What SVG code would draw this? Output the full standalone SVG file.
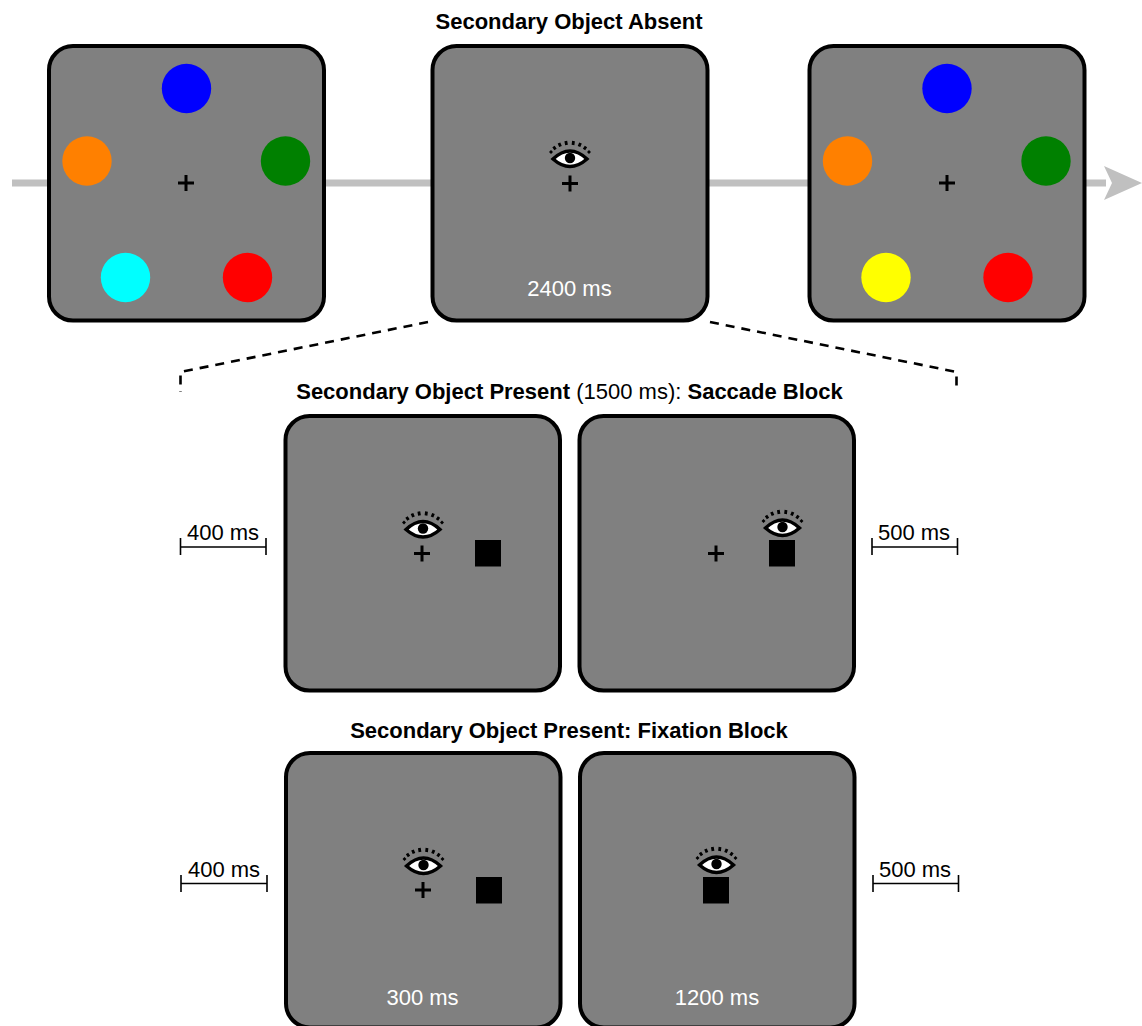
<svg xmlns="http://www.w3.org/2000/svg" width="1142" height="1026" viewBox="0 0 1142 1026">
<style>
.panel{fill:#808080;stroke:#000;stroke-width:4}
text{font-family:"Liberation Sans",Arial,sans-serif;font-size:22px;text-anchor:middle}
.t{font-weight:bold}
.w{fill:#fff}
.plus{stroke:#000;stroke-width:3;fill:none}
.dash{stroke:#000;stroke-width:2.6;fill:none;stroke-dasharray:9 7}
.scale{stroke:#000;stroke-width:1.6;fill:none}
</style>
<defs>
<g id="eye">
<path d="M-17 1Q0-15 17 1Q0 16-17 1Z" fill="#fff" stroke="#000" stroke-width="3.4"/>
<circle cx="0" cy="0" r="5.2" fill="#000"/>
<path d="M-18-5l-2-2M-14.500-8.500l-2-3M-9.500-11.500l-1.500-3.500M-3.500-13l-.7-4M3-13l.5-4M9-11.500l1.500-3.500M14-8.500l2-3M18-5l2-2" stroke="#000" stroke-width="2.800" fill="none"/>
</g>
<path id="plus" class="plus" d="M-8 0H8M0-8V8"/>
<marker id="dot" markerWidth="1" markerHeight="1"/>
</defs>
<g id="connectors">
<path d="M12 183H1106" stroke="#c0c0c0" stroke-width="7" fill="none"/>
<path d="M1104 166L1142 183L1104 200L1112 183Z" fill="#c0c0c0"/>
<path class="dash" d="M428 322L180.500 372V392"/>
<path class="dash" d="M710 322L956.500 372V392"/>
<path d="M444 527.500H474" stroke="#000" stroke-width="2" stroke-dasharray="4 3.500" fill="none"/>
<path d="M473 520L488 527.500L473 534L476 527.500Z" fill="#000"/>
<path class="scale" d="M180.500 538V555M180.500 547H266M266 538V555"/>
<path class="scale" d="M872 538V555M872 547H957.500M957.500 538V555"/>
<path class="scale" d="M181 875V892M181 883.500H267M267 875V892"/>
<path class="scale" d="M873 875V892M873 883.500H958.500M958.500 875V892"/>
</g>
<text class="t" x="569" y="29">Secondary Object Absent</text>
<g id="panel1">
<rect class="panel" x="49" y="46" width="275" height="274.500" rx="24"/>
<circle cx="186.500" cy="88.500" r="24.700" fill="#00f"/>
<circle cx="87" cy="161" r="24.700" fill="#ff8000"/>
<circle cx="285.500" cy="161" r="24.700" fill="#008000"/>
<circle cx="125.500" cy="277.500" r="24.700" fill="#0ff"/>
<circle cx="247.500" cy="277.500" r="24.700" fill="#f00"/>
<use href="#plus" x="186" y="183"/>
</g>
<g id="panel2">
<rect class="panel" x="432.500" y="46" width="275" height="274.500" rx="24"/>
<use href="#eye" x="570" y="158"/>
<use href="#plus" x="570" y="183.500"/>
<text class="w" x="569.500" y="296">2400 ms</text>
</g>
<g id="panel3">
<rect class="panel" x="809.500" y="46" width="275" height="274.500" rx="24"/>
<circle cx="947" cy="88.500" r="24.700" fill="#00f"/>
<circle cx="847.500" cy="161" r="24.700" fill="#ff8000"/>
<circle cx="1046" cy="161" r="24.700" fill="#008000"/>
<circle cx="886" cy="277.500" r="24.700" fill="#ff0"/>
<circle cx="1008" cy="277.500" r="24.700" fill="#f00"/>
<use href="#plus" x="947" y="183"/>
</g>
<text x="569.500" y="399"><tspan class="t">Secondary Object Present</tspan> (1500 ms): <tspan class="t">Saccade Block</tspan></text>
<g id="panel4">
<rect class="panel" x="285.500" y="416" width="274.500" height="274.500" rx="24"/>
<use href="#eye" x="423" y="528.500"/>
<use href="#plus" x="422" y="553.500"/>
<rect x="475" y="540" width="26" height="26.500"/>
</g>
<g id="panel5">
<rect class="panel" x="579.500" y="416" width="274.500" height="274.500" rx="24"/>
<use href="#plus" x="716" y="553.500"/>
<rect x="769" y="540" width="26" height="26.500"/>
<use href="#eye" x="782.500" y="527"/>
</g>
<text x="223" y="540">400 ms</text>
<text x="914" y="540">500 ms</text>
<text class="t" x="569" y="738">Secondary Object Present: Fixation Block</text>
<g id="panel6">
<rect class="panel" x="286" y="753" width="274.500" height="274.500" rx="24"/>
<use href="#eye" x="423.500" y="865"/>
<use href="#plus" x="423" y="890"/>
<rect x="476" y="877" width="26" height="26.500"/>
<text class="w" x="422.500" y="1005">300 ms</text>
</g>
<g id="panel7">
<rect class="panel" x="580" y="753" width="274.500" height="274.500" rx="24"/>
<rect x="703" y="877" width="26" height="26.500"/>
<use href="#eye" x="716.500" y="864"/>
<text class="w" x="717" y="1005">1200 ms</text>
</g>
<text x="224" y="877">400 ms</text>
<text x="915" y="877">500 ms</text>
</svg>
